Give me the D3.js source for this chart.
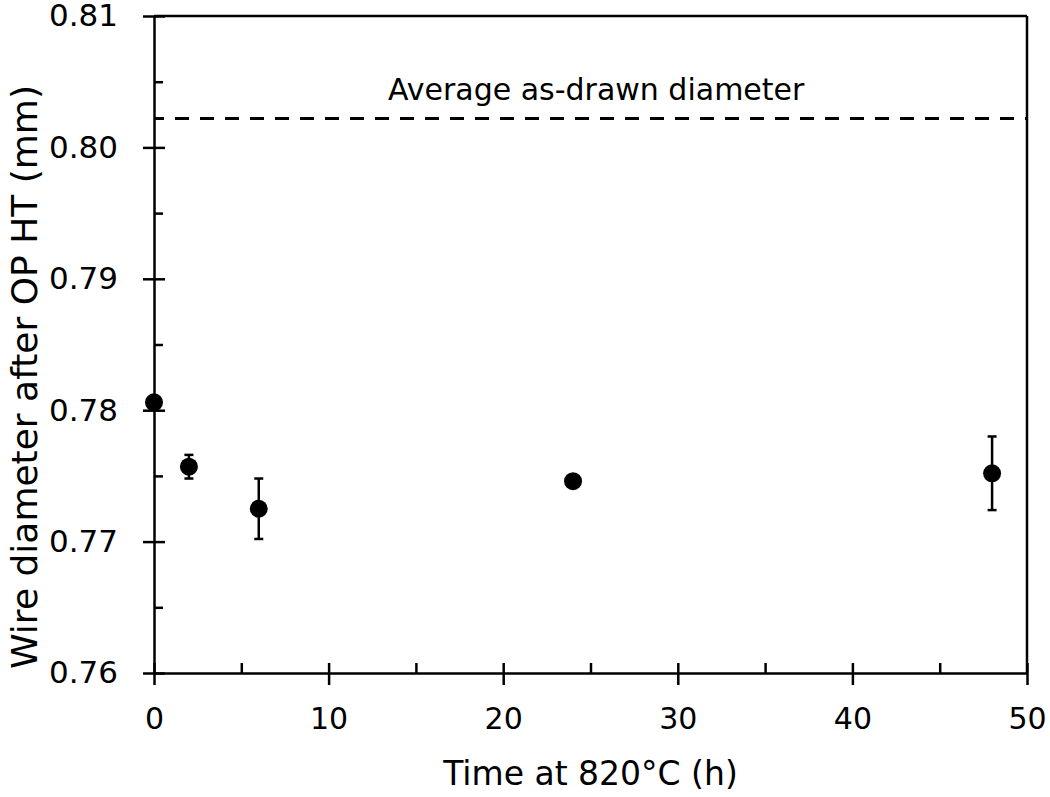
<!DOCTYPE html>
<html>
<head>
<meta charset="utf-8">
<script src="https://cdn.jsdelivr.net/npm/d3@7"></script>
<style>
  body { margin: 0; background: #fff; }
  text { font-family: "DejaVu Sans", Verdana, sans-serif; fill: #000; }
</style>
</head>
<body>
<div id="chart"></div>
<script>
// data
const times = [0, 2, 6, 24, 48];               // h at 820 C
const diameters = [0.7806, 0.7757, 0.7725, 0.7746, 0.7752];  // mm
const errors = [0.0003, 0.0009, 0.0023, 0.0002, 0.0028];
const asDrawn = 0.8022;
const xMajor = [0, 10, 20, 30, 40, 50];
const xMinor = [5, 15, 25, 35, 45];
const yMajor = [0.76, 0.77, 0.78, 0.79, 0.80, 0.81];
const yMinor = [0.765, 0.775, 0.785, 0.795, 0.805];

var margin = {top: 16, right: 23, bottom: 124, left: 154},
  width = 1050 - margin.left - margin.right,
  height = 797 - margin.top - margin.bottom;

const svg = d3.select('#chart').append('svg')
    .attr("width", width + margin.left + margin.right)
    .attr("height", height + margin.top + margin.bottom);

const g = svg.append("g")
  .attr("transform", "translate(" + margin.left + "," + margin.top + ")");

var x = d3.scaleLinear().domain([0, 50]).range([0, width]);
var y = d3.scaleLinear().domain([0.76, 0.81]).range([height, 0]);

// frame (top + right)
g.append("line")
  .attr("x1", x(0)).attr("x2", x(50))
  .attr("y1", y(0.81)).attr("y2", y(0.81))
  .attr("stroke", "#000").attr("stroke-width", 2.5);
g.append("line")
  .attr("x1", x(50)).attr("x2", x(50))
  .attr("y1", y(0.81)).attr("y2", y(0.76))
  .attr("stroke", "#000").attr("stroke-width", 2.5);

// left axis: outer major ticks with labels, inner ticks
const yAxis = g.append("g")
  .call(d3.axisLeft(y).tickValues(yMajor).tickSize(11).tickSizeOuter(0)
    .tickPadding(25).tickFormat(d3.format(".2f")));
yAxis.selectAll("text").style("font-size", "31px");

g.append("g")
  .call(d3.axisRight(y).tickValues(yMajor).tickSize(11).tickFormat(""))
  .select(".domain").remove();
g.append("g")
  .call(d3.axisRight(y).tickValues(yMinor).tickSize(9).tickFormat(""))
  .select(".domain").remove();

// bottom axis
const xAxis = g.append("g")
  .attr("transform", "translate(0," + height + ")")
  .call(d3.axisBottom(x).tickValues(xMajor).tickSize(12).tickSizeOuter(0).tickPadding(23));
xAxis.selectAll("text").style("font-size", "30px");

g.append("g")
  .attr("transform", "translate(0," + height + ")")
  .call(d3.axisTop(x).tickValues(xMajor).tickSize(10).tickFormat(""))
  .select(".domain").remove();
g.append("g")
  .attr("transform", "translate(0," + height + ")")
  .call(d3.axisTop(x).tickValues(xMinor).tickSize(10).tickFormat(""))
  .select(".domain").remove();

g.selectAll(".domain, .tick line")
  .attr("stroke", "#000")
  .attr("stroke-width", 2.5);

// as-drawn reference line
g.append("line")
  .attr("x1", x(0)).attr("x2", x(50))
  .attr("y1", y(asDrawn)).attr("y2", y(asDrawn))
  .attr("stroke", "#000")
  .attr("stroke-width", 3)
  .attr("stroke-dasharray", "14,11")
  .attr("stroke-dashoffset", 4);

g.append("text")
  .attr("x", x(13.4))
  .attr("y", y(asDrawn) - 18)
  .style("font-size", "30px")
  .text("Average as-drawn diameter");

// error bars
const pts = times.map(function(t, i) { return {t: t, d: diameters[i], e: errors[i]}; });

const bars = g.selectAll(".err").data(pts).enter().append("g").attr("class", "err")
  .attr("stroke", "#000").attr("stroke-width", 2.5);
bars.append("line")
  .attr("x1", d => x(d.t)).attr("x2", d => x(d.t))
  .attr("y1", d => y(d.d - d.e)).attr("y2", d => y(d.d + d.e));
bars.append("line")
  .attr("x1", d => x(d.t) - 4.5).attr("x2", d => x(d.t) + 4.5)
  .attr("y1", d => y(d.d + d.e)).attr("y2", d => y(d.d + d.e));
bars.append("line")
  .attr("x1", d => x(d.t) - 4.5).attr("x2", d => x(d.t) + 4.5)
  .attr("y1", d => y(d.d - d.e)).attr("y2", d => y(d.d - d.e));

g.selectAll(".pt").data(pts).enter().append("circle")
  .attr("class", "pt")
  .attr("cx", d => x(d.t))
  .attr("cy", d => y(d.d))
  .attr("r", 9)
  .attr("fill", "#000");

// axis titles
g.append("text")
  .attr("x", width / 2)
  .attr("y", height + 112)
  .attr("text-anchor", "middle")
  .style("font-size", "33px")
  .text("Time at 820°C (h)");

svg.append("text")
  .attr("transform", "translate(37," + 377 + ") rotate(-90)")
  .attr("text-anchor", "middle")
  .style("font-size", "36px")
  .text("Wire diameter after OP HT (mm)");
</script>
</body>
</html>
